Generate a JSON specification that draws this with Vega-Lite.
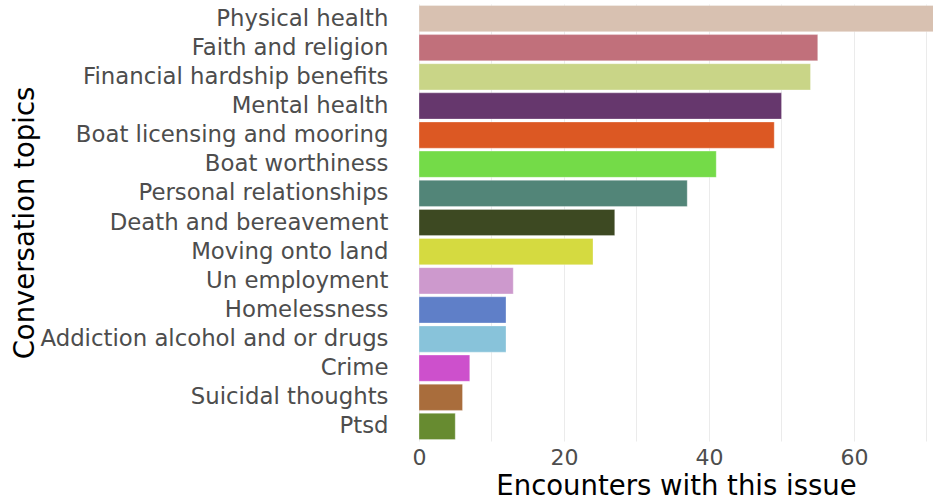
{
  "$schema": "https://vega.github.io/schema/vega-lite/v6.json",
  "autosize": {"type": "none"},
  "padding": {"left": 419, "top": 4, "right": 0, "bottom": 58},
  "width": 514,
  "height": 437,
  "background": "white",
  "config": {"view": {"stroke": null}, "font": "DejaVu Sans"},
  "data": {
    "values": [
      {"topic": "Physical health", "count": 72},
      {"topic": "Faith and religion", "count": 55},
      {"topic": "Financial hardship benefits", "count": 54},
      {"topic": "Mental health", "count": 50},
      {"topic": "Boat licensing and mooring", "count": 49},
      {"topic": "Boat worthiness", "count": 41},
      {"topic": "Personal relationships", "count": 37},
      {"topic": "Death and bereavement", "count": 27},
      {"topic": "Moving onto land", "count": 24},
      {"topic": "Un employment", "count": 13},
      {"topic": "Homelessness", "count": 12},
      {"topic": "Addiction alcohol and or drugs", "count": 12},
      {"topic": "Crime", "count": 7},
      {"topic": "Suicidal thoughts", "count": 6},
      {"topic": "Ptsd", "count": 5}
    ]
  },
  "mark": {"type": "bar", "clip": true, "stroke": "white", "strokeWidth": 0.6, "strokeOpacity": 0.5},
  "encoding": {
    "y": {
      "field": "topic",
      "type": "nominal",
      "sort": null,
      "scale": {"paddingInner": 0.1, "paddingOuter": 0.05},
      "axis": {
        "title": "Conversation topics",
        "titleFontSize": 27.5,
        "titleFontWeight": "normal",
        "titleColor": "black",
        "titleX": -385.5,
        "titleY": 218.5,
        "titleAngle": -90,
        "titleAlign": "center",
        "titleBaseline": "alphabetic",
        "labelFontSize": 22.8,
        "labelColor": "#4d4d4d",
        "labelPadding": 31,
        "labelLimit": 500,
        "domain": false,
        "ticks": false,
        "grid": false
      }
    },
    "x": {
      "field": "count",
      "type": "quantitative",
      "scale": {"domain": [0, 70.9], "nice": false, "zero": true},
      "axis": {
        "title": "Encounters with this issue",
        "titleFontSize": 27.5,
        "titleFontWeight": "normal",
        "titleColor": "black",
        "titlePadding": 4,
        "labelFontSize": 22,
        "labelColor": "#4d4d4d",
        "labelPadding": 6,
        "values": [0, 10, 20, 30, 40, 50, 60, 70],
        "labelExpr": "datum.value % 20 === 0 ? datum.label : ''",
        "labelFlush": false,
        "domain": false,
        "ticks": false,
        "grid": true,
        "gridColor": "#ebebeb",
        "gridWidth": 1
      }
    },
    "color": {
      "field": "topic",
      "type": "nominal",
      "legend": null,
      "scale": {
        "domain": ["Physical health", "Faith and religion", "Financial hardship benefits", "Mental health", "Boat licensing and mooring", "Boat worthiness", "Personal relationships", "Death and bereavement", "Moving onto land", "Un employment", "Homelessness", "Addiction alcohol and or drugs", "Crime", "Suicidal thoughts", "Ptsd"],
        "range": ["#d8c1b1", "#c1707b", "#c9d587", "#66376d", "#dc5823", "#74db48", "#528578", "#3d4922", "#d5da40", "#cd99cd", "#5f7fc8", "#88c3da", "#cd50cc", "#a96d3c", "#678b30"]
      }
    }
  }
}
